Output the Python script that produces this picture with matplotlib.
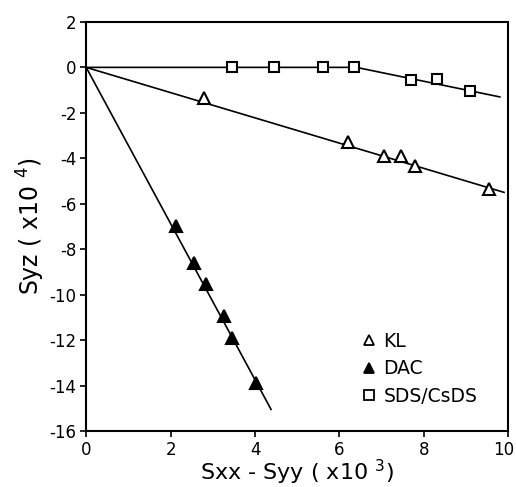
import matplotlib
matplotlib.use("Agg")
import matplotlib.pyplot as plt
import matplotlib.transforms as mtransforms

plt.rcParams['font.family'] = ['DejaVu Sans']
plt.rcParams['mathtext.default'] = 'regular'

# data
kl_x = [2.8, 6.2, 7.05, 7.45, 7.8, 9.55]
kl_y = [-1.35, -3.3, -3.9, -3.9, -4.35, -5.35]
kl_fit_x = [0, 9.9]
kl_fit_y = [0, -5.5]

dac_x = [2.12, 2.55, 2.85, 3.27, 3.45, 4.02]
dac_y = [-7.0, -8.6, -9.55, -10.95, -11.9, -13.9]
dac_fit_x = [0, 4.38]
dac_fit_y = [0, -15.05]

sds_x = [3.45, 4.45, 5.6, 6.35, 7.7, 8.3, 9.1]
sds_y = [0.0, 0.0, 0.0, 0.0, -0.55, -0.5, -1.05]
sds_fit_x = [0, 6.4, 9.8]
sds_fit_y = [0, 0, -1.3]

fig = plt.figure(figsize=(5.16, 4.87), dpi=100)
ax = fig.add_axes([0.167, 0.115, 0.818, 0.84])

# fitted lines
ax.plot(kl_fit_x, kl_fit_y, color='black', lw=1.2, zorder=1)
ax.plot(dac_fit_x, dac_fit_y, color='black', lw=1.2, zorder=1)
ax.plot(sds_fit_x, sds_fit_y, color='black', lw=1.2, zorder=1)

# data points
ax.plot(kl_x, kl_y, '^', ms=8, mfc='white', mec='black', mew=1.5, ls='none', zorder=3)
ax.plot(dac_x, dac_y, '^', ms=8, mfc='black', mec='black', mew=1.5, ls='none', zorder=3)
ax.plot(sds_x, sds_y, 's', ms=7.5, mfc='white', mec='black', mew=1.5, ls='none', zorder=3)

# legend
h_kl, = ax.plot([], [], '^', ms=6.5, mfc='white', mec='black', mew=1.3, ls='none')
h_dac, = ax.plot([], [], '^', ms=6.5, mfc='black', mec='black', mew=1.3, ls='none')
h_sds, = ax.plot([], [], 's', ms=6.5, mfc='white', mec='black', mew=1.3, ls='none')
ax.legend([h_kl, h_dac, h_sds], ['KL', 'DAC', 'SDS/CsDS'],
          loc='upper left', bbox_to_anchor=(0.635, 0.265), frameon=False,
          fontsize=13.5, handlelength=0.6, handletextpad=0.45, labelspacing=0.45,
          borderpad=0)

ax.set_xlim(0, 10)
ax.set_ylim(-16, 2)
ax.set_xticks(range(0, 11, 2))
ax.set_yticks(range(-16, 3, 2))
ax.set_yticklabels(['-16', '-14', '-12', '-10', '-8', '-6', '-4', '-2', '0', '2'])

for s in ax.spines.values():
    s.set_linewidth(1.5)
ax.tick_params(direction='out', length=4, width=1.2, labelsize=12, pad=3)

# pull the last x tick label in a little so it stays inside the figure
last = ax.get_xticklabels()[-1]
last.set_transform(last.get_transform() +
                   mtransforms.ScaledTranslation(-5 / 100, 0, fig.dpi_scale_trans))

ax.set_xlabel(r'Sxx - Syy ( x10 $^{3}$)', fontsize=16, labelpad=-1)
ax.set_ylabel(r'Syz ( x10 $^{4}$)', fontsize=17, labelpad=2)

fig.savefig('out.png', dpi=100)
